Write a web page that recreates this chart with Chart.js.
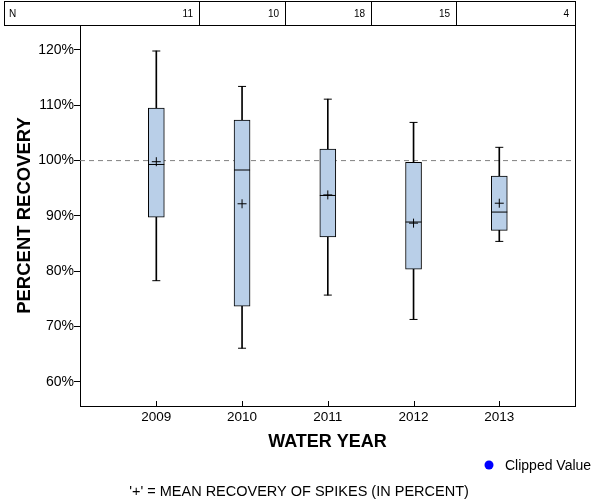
<!DOCTYPE html>
<html>
<head>
<meta charset="utf-8">
<script src="https://cdn.jsdelivr.net/npm/chart.js@4.4.1/dist/chart.umd.min.js"></script>
<style>
  html, body { margin: 0; padding: 0; background: #fff; }
  canvas { display: block; }
</style>
</head>
<body>
<canvas id="c" width="600" height="500"></canvas>
<script>
// ---- data ----
const YEARS        = [2009, 2010, 2011, 2012, 2013];
const N_COUNTS     = [11, 10, 18, 15, 4];
const WHISKER_LOW  = [78.3, 66.1, 75.7, 71.3, 85.4];
const Q1           = [89.8, 73.7, 86.2, 80.4, 87.4];
const MEDIAN       = [99.3, 98.3, 93.7, 88.9, 90.7];
const Q3           = [109.5, 107.3, 102.1, 99.7, 97.2];
const WHISKER_HIGH = [119.8, 113.4, 111.1, 106.9, 102.4];
const MEAN         = [99.8, 92.2, 93.8, 88.7, 92.3];
const Y_TICKS      = [60, 70, 80, 90, 100, 110, 120];
const REF_VALUE    = 100;
const X_MIN = 2008.11, X_MAX = 2013.883;
const Y_MIN = 55.66,   Y_MAX = 124.5;

const FONT = '"Liberation Sans", Arial, Helvetica, sans-serif';

const pts = (arr) => YEARS.map((x, i) => ({ x: x, y: arr[i] }));
const rng = (lo, hi) => YEARS.map((x, i) => ({ x: x, y: [lo[i], hi[i]] }));

const extrasPlugin = {
  id: 'extras',
  afterDraw(chart) {
    const ctx = chart.ctx;
    const xs = chart.scales.x;
    const ca = chart.chartArea;
    ctx.save();
    ctx.strokeStyle = '#000';
    ctx.lineWidth = 1;
    // right frame
    const R = Math.round(ca.right) + 0.5;
    ctx.beginPath();
    ctx.moveTo(R, 1); ctx.lineTo(R, Math.round(ca.bottom) + 1);
    ctx.stroke();
    // N table
    const T = 1.5, B = Math.round(ca.top) + 0.5, L = 4.5;
    ctx.strokeRect(L, T, R - L, B - T);
    const divs = [];
    for (let i = 0; i < YEARS.length - 1; i++) {
      divs.push(Math.round(xs.getPixelForValue((YEARS[i] + YEARS[i + 1]) / 2)) + 0.5);
    }
    ctx.beginPath();
    divs.forEach(d => { ctx.moveTo(d, T); ctx.lineTo(d, B); });
    ctx.stroke();
    ctx.fillStyle = '#000';
    ctx.font = '10px ' + FONT;
    ctx.textBaseline = 'middle';
    ctx.textAlign = 'left';
    const ty = (T + B) / 2 + 0.5;
    ctx.fillText('N', 9, ty);
    ctx.textAlign = 'right';
    const rights = divs.concat([R]);
    N_COUNTS.forEach((n, i) => ctx.fillText(String(n), rights[i] - 6.5, ty));
    // inward x ticks
    ctx.beginPath();
    YEARS.forEach(y => {
      const px = Math.round(xs.getPixelForValue(y)) + 0.5;
      ctx.moveTo(px, ca.bottom - 5); ctx.lineTo(px, ca.bottom);
    });
    ctx.stroke();
    // legend
    const ds = chart.data.datasets.find(d => d.label === 'Clipped Value');
    ctx.fillStyle = ds.pointBackgroundColor;
    ctx.beginPath();
    ctx.arc(489, 465, 4.5, 0, Math.PI * 2);
    ctx.fill();
    ctx.fillStyle = '#000';
    ctx.font = '14px ' + FONT;
    ctx.textAlign = 'left';
    ctx.textBaseline = 'middle';
    ctx.fillText(ds.label, 505, 466);
    // footnote
    ctx.font = '14.5px ' + FONT;
    ctx.textAlign = 'center';
    ctx.fillText("'+' = MEAN RECOVERY OF SPIKES (IN PERCENT)", 299, 492);
    ctx.restore();
  }
};

new Chart(document.getElementById('c'), {
  type: 'bar',
  data: {
    datasets: [
      { type: 'line', label: 'ref', data: [{ x: X_MIN, y: REF_VALUE }, { x: X_MAX, y: REF_VALUE }],
        borderColor: '#808080', borderWidth: 1, borderDash: [5, 4], pointRadius: 0, fill: false, order: 6 },
      { type: 'bar', label: 'whisker', data: rng(WHISKER_LOW, WHISKER_HIGH), grouped: false,
        barThickness: 1, backgroundColor: '#000', borderWidth: 0, order: 5 },
      { type: 'bar', label: 'box', data: rng(Q1, Q3), grouped: false,
        barThickness: 16, backgroundColor: '#b9cfe8', borderColor: '#000', borderWidth: 1,
        borderSkipped: false, order: 4 },
      { type: 'scatter', label: 'capLow', data: pts(WHISKER_LOW), pointStyle: 'line', pointRadius: 4,
        pointBorderColor: '#000', pointBorderWidth: 1, order: 3 },
      { type: 'scatter', label: 'capHigh', data: pts(WHISKER_HIGH), pointStyle: 'line', pointRadius: 4,
        pointBorderColor: '#000', pointBorderWidth: 1, order: 3 },
      { type: 'scatter', label: 'median', data: pts(MEDIAN), pointStyle: 'line', pointRadius: 8,
        pointBorderColor: '#000', pointBorderWidth: 1, order: 2 },
      { type: 'scatter', label: 'mean', data: pts(MEAN), pointStyle: 'cross', pointRadius: 4.5,
        pointBorderColor: '#000', pointBorderWidth: 1, order: 1 },
      { type: 'scatter', label: 'Clipped Value', data: [], pointStyle: 'circle', pointRadius: 4.5,
        pointBackgroundColor: '#0000ff', pointBorderColor: '#0000ff', order: 0 }
    ]
  },
  options: {
    responsive: false,
    animation: false,
    events: [],
    layout: { padding: { top: 25, right: 25, bottom: 47, left: 0 } },
    plugins: { legend: { display: false }, tooltip: { enabled: false } },
    scales: {
      x: {
        type: 'linear', min: X_MIN, max: X_MAX, offset: false,
        afterBuildTicks: s => { s.ticks = YEARS.map(v => ({ value: v })); },
        ticks: { color: '#000', font: { family: FONT, size: 13.5 }, padding: 3, maxRotation: 0,
                 autoSkip: false, callback: v => String(v) },
        grid: { display: false, drawTicks: false, offset: false },
        border: { display: true, color: '#000', width: 1 },
        title: { display: true, text: 'WATER YEAR', color: '#000', padding: 0,
                 font: { family: FONT, size: 18, weight: 'bold' } },
        afterFit: s => { s.height = 47; s.paddingLeft = 0; s.paddingRight = 0; s.paddingTop = 0; s.paddingBottom = 0; }
      },
      y: {
        type: 'linear', min: Y_MIN, max: Y_MAX,
        afterBuildTicks: s => { s.ticks = Y_TICKS.map(v => ({ value: v })); },
        ticks: { color: '#000', font: { family: FONT, size: 14 }, padding: 0, callback: v => v + '%' },
        grid: { drawOnChartArea: false, drawTicks: true, tickLength: 6, color: '#000' },
        border: { display: true, color: '#000', width: 1 },
        title: { display: true, text: 'PERCENT RECOVERY', color: '#000', padding: { top: 14, bottom: 0 },
                 font: { family: FONT, size: 18.5, weight: 'bold' } },
        afterFit: s => { s.width = 80; s.paddingLeft = 0; s.paddingRight = 0; s.paddingTop = 0; s.paddingBottom = 0; }
      }
    }
  },
  plugins: [extrasPlugin]
});
</script>
</body>
</html>
